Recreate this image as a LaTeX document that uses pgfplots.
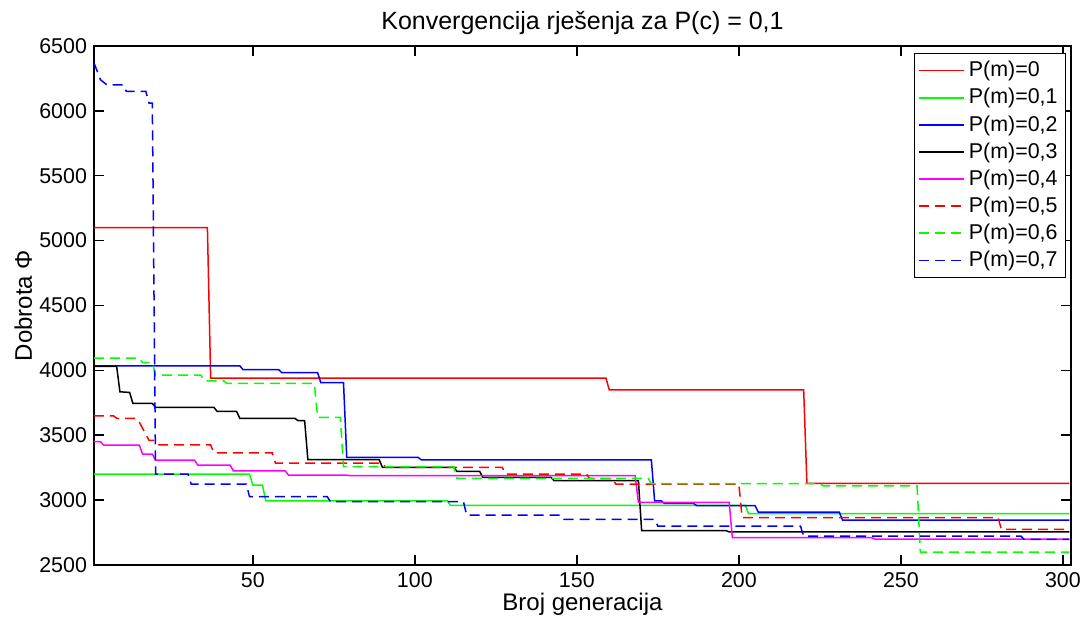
\documentclass[border=0pt]{standalone}
\usepackage{fontspec}
\setmainfont{Liberation Sans}
\usepackage{pgfplots}
\pgfplotsset{compat=1.18}

\definecolor{mred}{rgb}{1,0,0}
\definecolor{mgreen}{rgb}{0,1,0}
\definecolor{mblue}{rgb}{0,0,1}
\definecolor{mmag}{rgb}{1,0,1}

\begin{document}
\begin{tikzpicture}
\useasboundingbox (-47pt,-30.5pt) rectangle (497pt,282.5pt);
\begin{axis}[
    scale only axis,
    width=488.5pt, height=259.5pt,
    xmin=1, xmax=302.5,
    ymin=2500, ymax=6500,
    xtick={50,100,...,300},
    ytick={2500,3000,...,6500},
    tick align=inside,
    major tick length=5pt,
    axis line style={line width=0.75pt},
    every tick/.style={black, line width=0.75pt},
    /pgf/number format/assume math mode=true,
    /pgf/number format/1000 sep={},
    tick label style={font=\fontsize{10.7}{12}\selectfont},
    title={Konvergencija rješenja za P(c) = 0,1},
    title style={font=\fontsize{12.5}{14}\selectfont, at={(0.5,1)}, anchor=base, yshift=2pt},
    xlabel={Broj generacija},
    xlabel style={font=\fontsize{12}{14}\selectfont, at={(0.5,0)}, anchor=base, yshift=-23pt},
    ylabel={Dobrota Φ},
    ylabel style={font=\fontsize{12}{14}\selectfont, at={(0,0.5)}, anchor=base, rotate=0, yshift=31pt},
    legend style={at={(0.995,0.987)}, anchor=north east, draw=black, line width=0.6pt,
        fill=white, font=\fontsize{10.7}{12}\selectfont, row sep=0.3pt,
        inner xsep=2pt, inner ysep=2pt},
    legend cell align=left,
    legend image code/.code={\draw[#1, line width=0.8pt] (0pt,0pt) -- (22.5pt,0pt);},
    every axis plot/.append style={line width=0.75pt},
]
% P(m)=0
\addplot[mred] coordinates {
(1,5100) (36,5100) (37,3940) (159,3940) (160,3850) (220,3850) (221,3130) (302,3130)};
% P(m)=0,1
\addplot[mgreen] coordinates {
(1,3200) (49,3200) (50,3115) (53,3115) (54,2995) (110,2995) (111,2960) (202,2960)
(203,2895) (302,2895)};
% P(m)=0,2
\addplot[mblue] coordinates {
(1,4035) (46,4035) (47,4005) (58,4005) (59,3982) (70,3982) (71,3905) (78,3905)
(79,3330) (101,3330) (102,3310) (173,3310) (174,2995) (176,2995) (177,2975)
(186,2975) (187,2957) (205,2957) (206,2908) (231,2908) (232,2845) (302,2845)};
% P(m)=0,3
\addplot[black] coordinates {
(1,4030) (8,4030) (9,3835) (12,3830) (13,3745) (19,3745) (20,3715) (38,3715)
(39,3684) (45,3684) (46,3630) (63,3630) (64,3612) (66,3612) (67,3312) (89,3312)
(90,3253) (112,3253) (113,3222) (120,3222) (121,3176) (142,3176) (143,3150)
(169,3150) (170,2765) (196,2765) (197,2755) (302,2755)};
% P(m)=0,4
\addplot[mmag] coordinates {
(1,3450) (3,3450) (4,3424) (15,3424) (16,3355) (19,3355) (20,3309) (32,3309)
(33,3270) (43,3270) (44,3226) (60,3226) (61,3193) (79,3193) (80,3188) (168,3188)
(169,2983) (197,2983) (198,2710) (241,2710) (242,2700) (302,2700)};
% P(m)=0,5
\addplot[mred, dash pattern=on 5pt off 3pt] coordinates {
(1,3650) (7,3650) (8,3630) (14,3630) (15,3600) (18,3460) (20,3460) (21,3425)
(37,3425) (38,3365) (56,3365) (57,3285) (90,3285) (91,3253) (127,3253) (128,3201)
(153,3201) (154,3165) (161,3165) (162,3124) (200,3124) (201,2865) (280,2865)
(281,2775) (302,2775)};
% P(m)=0,6
\addplot[mgreen, dash pattern=on 5pt off 3pt] coordinates {
(1,4095) (15,4095) (16,4060) (19,4060) (20,3964) (34,3964) (35,3920) (41,3920)
(42,3900) (69,3900) (70,3638) (77,3638) (78,3258) (112,3258) (113,3168) (172,3168)
(173,3128) (225,3128) (226,3110) (255,3110) (256,2600) (302,2600)};
% P(m)=0,7
\addplot[mblue, dash pattern=on 5pt off 3pt] coordinates {
(1,6370) (3,6240) (5,6200) (10,6200) (11,6150) (17,6150) (18,6060) (19,6060)
(20,3200) (30,3200) (31,3124) (48,3124) (49,3026) (73,3026) (74,2988) (115,2988)
(116,2885) (145,2885) (146,2852) (174,2852) (175,2800) (219,2800) (220,2723)
(287,2723) (288,2698) (302,2698)};
\legend{{P(m)=0},{P(m)=0,1},{P(m)=0,2},{P(m)=0,3},{P(m)=0,4},{P(m)=0,5},{P(m)=0,6},{P(m)=0,7}}
\end{axis}
\end{tikzpicture}
\end{document}
